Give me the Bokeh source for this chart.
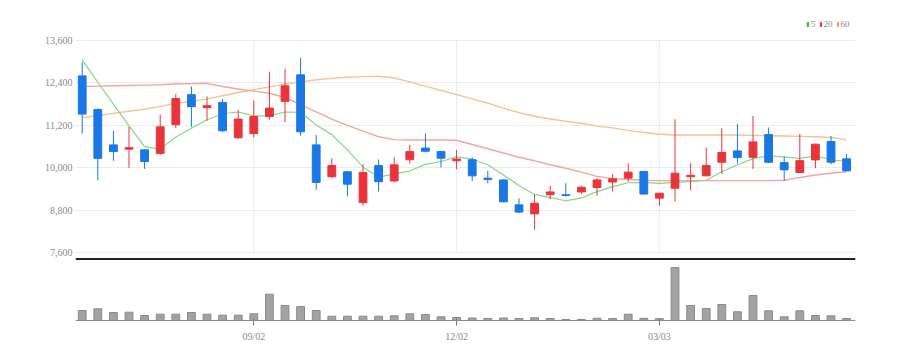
from bokeh.plotting import figure
from bokeh.models import Range1d, FixedTicker, NumeralTickFormatter, Span, Legend, LegendItem
from bokeh.embed import file_html
from bokeh.resources import INLINE

# ---------------- data (weekly candles) ----------------
opens = [12600, 11650, 10650, 10530, 10510, 10410, 11220, 12070, 11700, 11850,
         10850, 10970, 11450, 11880, 12630, 10650, 9750, 9890, 9020, 10065,
         9630, 10230, 10560, 10460, 10200, 10230, 9710, 9660, 8955, 8700,
         9240, 9240, 9320, 9445, 9600, 9710, 9900, 9145, 9425, 9750,
         9775, 10160, 10480, 10300, 10940, 10150, 9870, 10225, 10745, 10255]
highs = [12980, 11680, 11050, 11160, 10530, 11500, 12090, 12300, 12020, 11950,
         11640, 11900, 12720, 12800, 13110, 10930, 10270, 9900, 10110, 10240,
         10300, 10650, 10980, 10470, 10510, 10300, 9915, 9670, 9140, 9240,
         9490, 9570, 9490, 9710, 9830, 10130, 9910, 9290, 11375, 10130,
         10575, 11120, 11235, 11470, 11140, 10320, 10960, 10680, 10900, 10395]
lows = [10970, 9650, 10200, 10000, 9970, 10370, 11130, 11160, 11330, 11020,
        10820, 10860, 11360, 11290, 10910, 9380, 9710, 9190, 8930, 9330,
        9590, 10130, 10440, 10010, 9960, 9630, 9570, 9030, 8720, 8250,
        9115, 9190, 9260, 9210, 9330, 9610, 9250, 8930, 9050, 9370,
        9760, 9830, 10130, 9970, 10140, 9630, 9860, 9990, 10100, 9910]
closes = [11520, 10270, 10460, 10570, 10180, 11160, 11960, 11730, 11760, 11050,
          11380, 11450, 11690, 12320, 11020, 9590, 10065, 9540, 9870, 9610,
          10085, 10460, 10470, 10275, 10250, 9775, 9670, 9040, 8750, 9000,
          9320, 9220, 9455, 9660, 9690, 9880, 9260, 9285, 9850, 9790,
          10065, 10435, 10290, 10735, 10160, 9945, 10205, 10670, 10160, 9915]
ma5 = [13050, 12420, 11800, 11190, 10600, 10530, 10870, 11120, 11360, 11530,
       11580, 11470, 11470, 11580, 11570, 11210, 10940, 10510, 10020, 9740,
       9830, 9910, 10100, 10180, 10310, 10250, 10090, 9800, 9500, 9250,
       9160, 9070, 9150, 9330, 9470, 9580, 9590, 9560, 9590, 9610,
       9650, 9890, 10090, 10260, 10340, 10310, 10270, 10340, 10230, 10180]
ma20 = [12300, 12310, 12320, 12330, 12340, 12350, 12370, 12380, 12390, 12300,
        12230, 12170, 12110, 11990, 11780, 11580, 11380, 11200, 11040, 10880,
        10800, 10790, 10790, 10790, 10780, 10660, 10540, 10420, 10300, 10200,
        10090, 9990, 9880, 9760, 9700, 9670, 9650, 9640, 9640, 9640,
        9640, 9640, 9640, 9640, 9640, 9650, 9730, 9800, 9850, 9890]
ma60 = [11420, 11480, 11540, 11600, 11660, 11740, 11820, 11880, 11950, 12040,
        12130, 12210, 12290, 12370, 12430, 12490, 12530, 12560, 12580, 12590,
        12540, 12430, 12310, 12190, 12070, 11950, 11830, 11690, 11560, 11460,
        11380, 11320, 11260, 11180, 11130, 11060, 11000, 10950, 10930, 10930,
        10930, 10930, 10930, 10920, 10910, 10900, 10890, 10880, 10860, 10790]
volumes = [100, 117, 80, 83, 50, 63, 63, 80, 63, 53,
           53, 67, 263, 150, 140, 100, 43, 43, 43, 43,
           47, 67, 60, 37, 30, 25, 20, 25, 20, 27,
           20, 10, 10, 22, 20, 63, 22, 18, 530, 150,
           120, 160, 87, 250, 97, 37, 97, 50, 47, 20]
date_tick_idx = [11, 24, 37]
date_tick_labels = ["09/02", "12/02", "03/03"]
price_ticks = [7600, 8800, 10000, 11200, 12400, 13600]
legend_labels = ["5", "20", "60"]

# ---------------- styling ----------------
UP = "#e8353c"
DOWN = "#1a77e6"
MA_COLORS = ["#84d884", "#f5a3a6", "#f9c090"]
LEG_COLORS = ["#3cbc3c", "#ea3c44", "#f5a04a"]
FONT = "Liberation Sans Narrow"
LABEL_COLOR = "#8a8a8a"
GRID = "#ececec"

idx = list(range(len(closes)))
colors = [UP if c >= o else DOWN for o, c in zip(opens, closes)]
body_top = [max(o, c) for o, c in zip(opens, closes)]
body_bot = [min(o, c) for o, c in zip(opens, closes)]

p = figure(width=895, height=352, output_backend="svg", toolbar_location=None,
           x_range=Range1d(-0.43, 49.57), y_range=Range1d(5630, 14222),
           min_border_left=75, min_border_right=40, min_border_top=18, min_border_bottom=30,
           outline_line_color=None)
p.extra_y_ranges = {"vol": Range1d(-20, 3020)}

# grids
p.xgrid.visible = False
p.ygrid.ticker = FixedTicker(ticks=price_ticks)
p.ygrid.grid_line_color = GRID
p.segment(x0=date_tick_idx, x1=date_tick_idx,
          y0=[price_ticks[0]] * len(date_tick_idx), y1=[price_ticks[-1]] * len(date_tick_idx),
          line_color=GRID, line_width=1)

# axes
p.yaxis.ticker = FixedTicker(ticks=price_ticks)
p.yaxis.formatter = NumeralTickFormatter(format="0,0")
p.yaxis.axis_line_color = None
p.yaxis.major_tick_line_color = None
p.yaxis.major_tick_out = 0
p.yaxis.major_tick_in = 0
p.yaxis.minor_tick_line_color = None
p.yaxis.minor_tick_out = 0
p.yaxis.major_label_standoff = 3
p.yaxis.major_label_text_font = FONT
p.yaxis.major_label_text_font_size = "10px"
p.yaxis.major_label_text_color = LABEL_COLOR

p.xaxis.ticker = FixedTicker(ticks=date_tick_idx)
p.xaxis.major_label_overrides = {t: l for t, l in zip(date_tick_idx, date_tick_labels)}
p.xaxis.axis_line_color = None
p.xaxis.major_tick_line_color = "#777777"
p.xaxis.major_tick_in = 4
p.xaxis.major_tick_out = 3
p.xaxis.minor_tick_line_color = None
p.xaxis.minor_tick_out = 0
p.xaxis.major_label_standoff = 5
p.xaxis.major_label_text_font = FONT
p.xaxis.major_label_text_font_size = "10px"
p.xaxis.major_label_text_color = LABEL_COLOR

# moving averages
p.line(idx, ma60, line_color=MA_COLORS[2], line_width=1.4)
p.line(idx, ma20, line_color=MA_COLORS[1], line_width=1.4)
p.line(idx, ma5, line_color=MA_COLORS[0], line_width=1.2)

# candles
p.segment(x0=idx, x1=idx, y0=lows, y1=highs, line_color=colors, line_width=1)
p.vbar(x=idx, width=0.5, top=body_top, bottom=body_bot, fill_color=colors, line_color=colors)

# separator between price and volume
p.add_layout(Span(location=7425, dimension="width", line_color="#222222", line_width=2))

# volume
p.add_layout(Span(location=0, dimension="width", y_range_name="vol", line_color="#8c8c8c", line_width=1))
p.vbar(x=idx, width=0.5, top=volumes, bottom=0, y_range_name="vol",
       fill_color="#a3a3a3", line_color="#8a8a8a")

# legend (renderers carry a single undrawable NaN point so only the key is drawn)
nan = float("nan")
leg_r = []
for c in LEG_COLORS:
    leg_r.append(p.quad(left=[nan], right=[nan], top=[nan], bottom=[nan], fill_color=c, line_color=None))
legend = Legend(items=[LegendItem(label=l, renderers=[r]) for l, r in zip(legend_labels, leg_r)],
                orientation="horizontal", location=(731, 293),
                glyph_width=3, glyph_height=6, label_standoff=2, spacing=3,
                padding=0, margin=0, border_line_color=None, background_fill_alpha=0,
                label_text_font=FONT, label_text_font_size="9px", label_text_color=LABEL_COLOR,
                label_height=8, label_width=4)
p.add_layout(legend)

open("out.html", "w").write(file_html(p, INLINE))
